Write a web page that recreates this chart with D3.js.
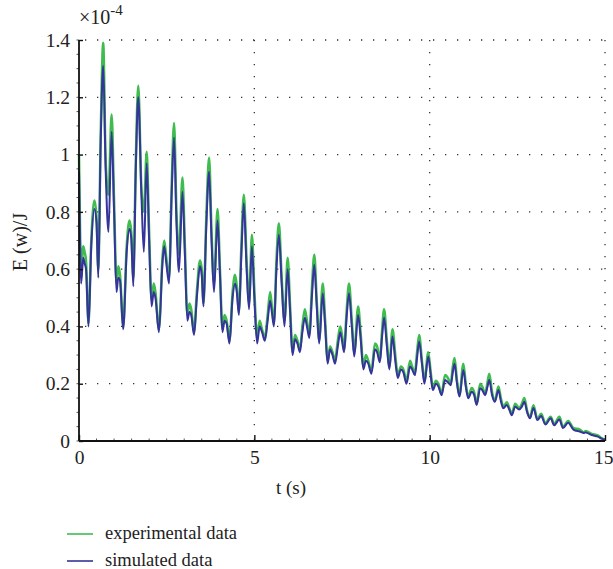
<!DOCTYPE html>
<html><head><meta charset="utf-8">
<script src="https://cdn.jsdelivr.net/npm/d3@7"></script>
<style>html,body{margin:0;padding:0;background:#fff;}svg{display:block;}
svg text{font-family:"Liberation Serif","Times New Roman","DejaVu Serif",serif;}</style>
</head><body>
<svg id="chart" width="613" height="569"></svg>
<script>
const times = [0.00,0.03,0.06,0.12,0.16,0.20,0.27,0.35,0.44,0.50,0.55,0.62,0.69,0.76,0.84,0.93,1.00,1.07,1.12,1.17,1.26,1.36,1.44,1.49,1.55,1.62,1.69,1.78,1.85,1.93,2.00,2.07,2.13,2.18,2.28,2.38,2.43,2.49,2.57,2.64,2.71,2.78,2.85,2.95,3.02,3.09,3.15,3.20,3.28,3.36,3.45,3.50,3.55,3.63,3.71,3.78,3.85,3.95,4.02,4.09,4.15,4.21,4.29,4.38,4.45,4.50,4.56,4.63,4.70,4.78,4.85,4.93,5.00,5.08,5.15,5.22,5.30,5.38,5.45,5.50,5.56,5.63,5.70,5.78,5.86,5.95,6.02,6.09,6.16,6.23,6.30,6.37,6.44,6.50,6.57,6.64,6.71,6.78,6.85,6.95,7.02,7.09,7.16,7.23,7.30,7.38,7.45,7.50,7.56,7.63,7.70,7.78,7.85,7.96,8.03,8.11,8.18,8.25,8.34,8.44,8.50,8.58,8.64,8.70,8.78,8.85,8.94,9.02,9.09,9.18,9.25,9.34,9.44,9.50,9.58,9.64,9.70,9.78,9.85,9.96,10.03,10.09,10.18,10.25,10.34,10.44,10.52,10.60,10.66,10.71,10.78,10.85,10.96,11.03,11.10,11.20,11.27,11.34,11.44,11.50,11.58,11.65,11.70,11.78,11.86,11.96,12.03,12.10,12.20,12.27,12.34,12.44,12.55,12.63,12.70,12.78,12.86,12.96,13.07,13.18,13.30,13.45,13.55,13.70,13.80,13.95,14.10,14.28,14.40,14.45,14.62,14.80,14.90,15.00];
const simulated = [0.94,0.70,0.55,0.64,0.62,0.60,0.40,0.68,0.81,0.76,0.57,1.05,1.31,0.95,0.73,1.08,0.80,0.52,0.57,0.56,0.39,0.66,0.74,0.71,0.54,0.95,1.20,0.86,0.66,0.97,0.70,0.47,0.52,0.50,0.38,0.62,0.68,0.62,0.55,0.85,1.06,0.76,0.59,0.87,0.65,0.42,0.45,0.44,0.37,0.50,0.61,0.58,0.47,0.75,0.94,0.70,0.52,0.77,0.58,0.38,0.42,0.41,0.34,0.50,0.55,0.52,0.44,0.65,0.83,0.60,0.46,0.68,0.50,0.34,0.40,0.38,0.35,0.42,0.49,0.45,0.40,0.60,0.72,0.55,0.40,0.60,0.45,0.30,0.355,0.34,0.31,0.38,0.43,0.40,0.36,0.50,0.615,0.47,0.34,0.515,0.40,0.27,0.32,0.30,0.27,0.33,0.38,0.35,0.31,0.43,0.515,0.40,0.295,0.44,0.36,0.25,0.28,0.27,0.235,0.32,0.31,0.275,0.36,0.43,0.33,0.25,0.365,0.28,0.22,0.25,0.24,0.20,0.26,0.25,0.23,0.29,0.347,0.27,0.20,0.295,0.23,0.178,0.20,0.19,0.16,0.213,0.205,0.195,0.24,0.27,0.20,0.155,0.248,0.19,0.149,0.172,0.16,0.126,0.184,0.178,0.16,0.19,0.213,0.16,0.137,0.178,0.14,0.114,0.126,0.11,0.09,0.12,0.11,0.12,0.137,0.10,0.079,0.115,0.073,0.087,0.058,0.079,0.055,0.075,0.045,0.064,0.04,0.033,0.028,0.030,0.021,0.015,0.008,0.004];
const experimental = [1.00,0.74,0.57,0.68,0.66,0.63,0.41,0.70,0.84,0.78,0.60,1.08,1.39,0.98,0.86,1.14,0.84,0.55,0.61,0.58,0.40,0.68,0.77,0.73,0.57,0.98,1.24,0.88,0.80,1.01,0.73,0.49,0.55,0.52,0.39,0.64,0.70,0.64,0.57,0.88,1.11,0.80,0.65,0.92,0.68,0.44,0.48,0.46,0.38,0.52,0.63,0.60,0.48,0.78,0.99,0.73,0.55,0.81,0.60,0.39,0.44,0.42,0.35,0.52,0.58,0.54,0.45,0.68,0.86,0.63,0.48,0.72,0.53,0.36,0.42,0.39,0.36,0.44,0.52,0.47,0.41,0.63,0.76,0.57,0.42,0.64,0.47,0.31,0.37,0.35,0.32,0.40,0.46,0.42,0.37,0.53,0.65,0.49,0.35,0.55,0.42,0.28,0.33,0.31,0.28,0.35,0.40,0.37,0.32,0.45,0.55,0.42,0.31,0.47,0.38,0.26,0.30,0.28,0.245,0.34,0.33,0.285,0.38,0.46,0.35,0.26,0.39,0.30,0.23,0.26,0.25,0.21,0.28,0.26,0.24,0.31,0.37,0.28,0.21,0.31,0.24,0.185,0.21,0.20,0.165,0.23,0.22,0.20,0.26,0.29,0.21,0.16,0.27,0.20,0.155,0.185,0.17,0.13,0.20,0.19,0.165,0.205,0.235,0.17,0.14,0.19,0.15,0.12,0.135,0.115,0.095,0.13,0.115,0.13,0.15,0.105,0.083,0.125,0.078,0.095,0.062,0.085,0.06,0.085,0.05,0.07,0.045,0.04,0.03,0.035,0.025,0.02,0.01,0.005];
const yTicks = [0,0.2,0.4,0.6,0.8,1.0,1.2,1.4];
const yTickLabels = ["0","0.2","0.4","0.6","0.8","1","1.2","1.4"];
const xTicks = [0,5,10,15];
const xTickLabels = ["0","5","10","15"];
const seriesNames = ["experimental data","simulated data"];
const seriesColors = ["#3fbb4f","#34349a"];

const svg = d3.select("#chart");
const x = d3.scaleLinear().domain([0,15]).range([79,605]);
const y = d3.scaleLinear().domain([0,1.4]).range([441,40]);

// grid
const grid = svg.append("g").attr("stroke","#333").attr("stroke-width",1.3).attr("stroke-dasharray","1.3,10.7");
yTicks.filter(v=>v>0).forEach(v=>{
  grid.append("line").attr("x1",x(0)+6).attr("x2",x(15)).attr("y1",y(v)).attr("y2",y(v));
});
xTicks.filter(v=>v>0).forEach(v=>{
  grid.append("line").attr("y1",y(1.4)).attr("y2",y(0)-6).attr("x1",x(v)).attr("x2",x(v));
});

// lines
const line = d3.line().x((d,i)=>x(times[i])).y(d=>y(d)).curve(d3.curveMonotoneX);
svg.append("path").attr("d",line(experimental)).attr("fill","none").attr("stroke",seriesColors[0]).attr("stroke-width",2.5).attr("stroke-linejoin","round");
svg.append("path").attr("d",line(simulated)).attr("fill","none").attr("stroke",seriesColors[1]).attr("stroke-width",2).attr("stroke-linejoin","round");

// minor ticks
const minorY = d3.range(0,1.4001,0.05);
svg.append("g").selectAll("line").data(minorY).join("line")
  .attr("x1",x(0)-2.5).attr("x2",x(0)).attr("y1",d=>y(d)).attr("y2",d=>y(d)).attr("stroke","#555").attr("stroke-width",1);
const minorX = d3.range(0,15.001,0.5);
svg.append("g").selectAll("line").data(minorX).join("line")
  .attr("y1",y(0)).attr("y2",y(0)-2.5).attr("x1",d=>x(d)).attr("x2",d=>x(d)).attr("stroke","#555").attr("stroke-width",1);

// axes
const yAxis = d3.axisLeft(y).tickValues(yTicks).tickSize(-4).tickPadding(9).tickFormat((d,i)=>yTickLabels[i]);
const gy = svg.append("g").attr("transform",`translate(${x(0)},0)`).call(yAxis);
const xAxis = d3.axisBottom(x).tickValues(xTicks).tickSize(-6).tickPadding(9).tickFormat((d,i)=>xTickLabels[i]);
const gx = svg.append("g").attr("transform",`translate(0,${y(0)})`).call(xAxis);
[gx,gy].forEach(g=>{
  g.attr("font-family",null).attr("font-size",null);
  g.select(".domain").attr("stroke","#111").attr("stroke-width",1.8);
  g.selectAll(".tick line").attr("stroke","#111").attr("stroke-width",1.4);
  g.selectAll("text").attr("font-size",19.5).attr("fill","#222");
});
gx.selectAll(".tick text").filter(d=>d===15).attr("text-anchor","end").attr("dx",8);
gx.select(".domain").attr("d",`M${x(0)},0H${x(15)}`);
gy.select(".domain").attr("d",`M0,${y(0)}V${y(1.4)}`);

// exponent label
const ex = svg.append("text").attr("x",79).attr("y",24).attr("font-size",20).attr("fill","#222");
ex.append("tspan").text("×10");
ex.append("tspan").attr("dy",-9).attr("font-size",15).text("-4");

// axis titles
svg.append("text").attr("x",291).attr("y",494).attr("text-anchor","middle").attr("font-size",19).attr("fill","#222").text("t (s)");
svg.append("text").attr("transform","translate(27,242) rotate(-90)").attr("text-anchor","middle").attr("font-size",20).attr("fill","#222").text("E (w)/J");

// legend
const legY = [534,561];
seriesNames.forEach((n,i)=>{
  svg.append("line").attr("x1",67).attr("x2",93).attr("y1",legY[i]).attr("y2",legY[i]).attr("stroke",seriesColors[i]).attr("stroke-width",1.6);
  svg.append("text").attr("x",105).attr("y",legY[i]+5).attr("font-size",18.5).attr("fill","#222").text(n);
});
</script>
</body></html>
